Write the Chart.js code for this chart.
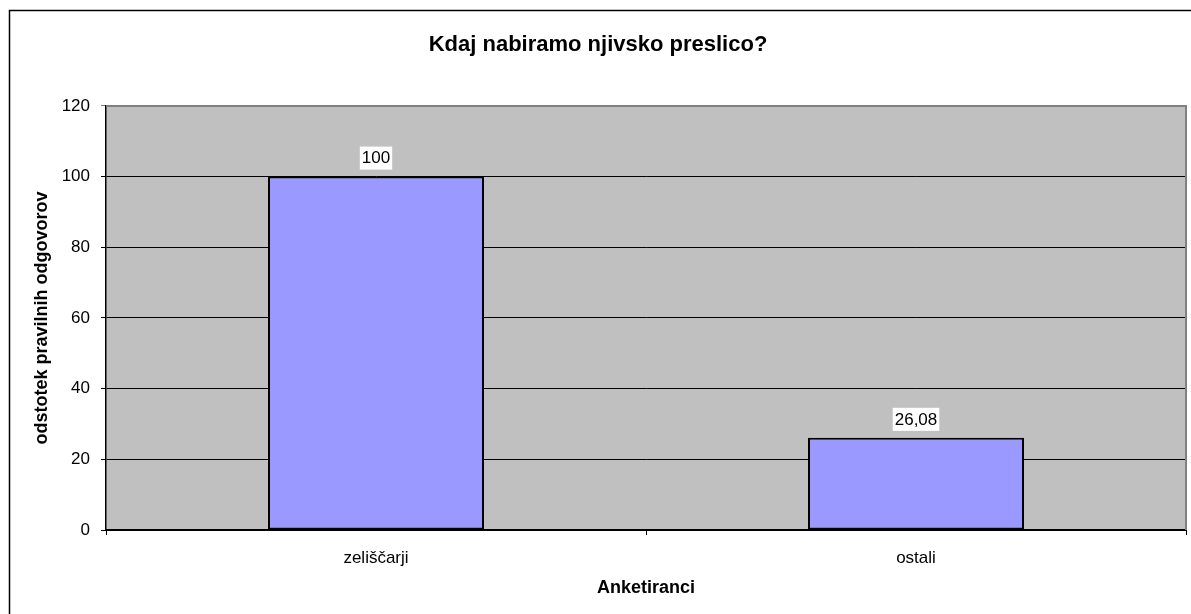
<!DOCTYPE html>
<html>
<head>
<meta charset="utf-8">
<script src="https://cdn.jsdelivr.net/npm/chart.js@4.4.1/dist/chart.umd.min.js"></script>
<style>
  html,body{margin:0;padding:0;background:#fff;overflow:hidden;}
  #wrap{width:1191px;height:614px;}
</style>
</head>
<body>
<div id="wrap"><canvas id="preslicaChart" width="1191" height="614"></canvas></div>
<script>
const categories = ['zeliščarji', 'ostali'];
const percentCorrect = [100, 26.08];
const yMin = 0, yMax = 120, yStep = 20;
const chartTitle = 'Kdaj nabiramo njivsko preslico?';
const xTitle = 'Anketiranci';
const yTitle = 'odstotek pravilnih odgovorov';

const FONT = "'Liberation Sans', Arial, sans-serif";

// background of plot + outer frame
const framePlugin = {
    id: 'frame',
    beforeDraw(chart){
        const ctx = chart.ctx, a = chart.chartArea;
        ctx.save();
        ctx.fillStyle = '#fff';
        ctx.fillRect(0,0,chart.width,chart.height);
        ctx.strokeStyle = '#000';
        ctx.lineWidth = 1.5;
        ctx.strokeRect(9.5, 10.5, chart.width + 20, chart.height + 20);
        ctx.fillStyle = '#c0c0c0';
        ctx.fillRect(a.left, a.top, a.right - a.left, a.bottom - a.top);
        ctx.restore();
    },
    afterDatasetsDraw(chart){
        // plot area border on top/right (gray like excel)
        const ctx = chart.ctx, a = chart.chartArea;
        ctx.save();
        ctx.strokeStyle = '#808080';
        ctx.lineWidth = 2;
        ctx.beginPath();
        ctx.moveTo(a.left, a.top);
        ctx.lineTo(a.right, a.top);
        ctx.lineTo(a.right, a.bottom);
        ctx.stroke();
        ctx.restore();
    }
};

// value labels with white box above bars
const valueLabels = {
    id: 'valueLabels',
    afterDatasetsDraw(chart){
        const ctx = chart.ctx;
        const meta = chart.getDatasetMeta(0);
        ctx.save();
        ctx.font = '17px ' + FONT;
        ctx.textAlign = 'center';
        ctx.textBaseline = 'middle';
        meta.data.forEach((bar, i) => {
            const txt = percentCorrect[i].toLocaleString('sl-SI');
            const w = ctx.measureText(txt).width;
            const cy = bar.y - 19;
            ctx.fillStyle = '#fff';
            ctx.fillRect(bar.x - w/2 - 2, cy - 11, w + 4, 23);
            ctx.fillStyle = '#000';
            ctx.fillText(txt, bar.x, cy + 1);
        });
        ctx.restore();
    }
};

function drawChart(){
    new Chart('preslicaChart', {
        type: 'bar',
        data: {
            labels: categories,
            datasets: [{
                data: percentCorrect,
                backgroundColor: '#9999ff',
                borderColor: '#000',
                borderWidth: 2,
                borderSkipped: false,
                categoryPercentage: 1,
                barPercentage: 0.4
            }]
        },
        options: {
            responsive: false,
            animation: false,
            devicePixelRatio: 1,
            layout: { padding: { left: 10, right: 5, top: 0, bottom: 0 } },
            plugins: {
                legend: { display: false },
                tooltip: { enabled: false },
                title: {
                    display: true,
                    text: chartTitle,
                    color: '#000',
                    font: { family: FONT, size: 22, weight: 'bold' },
                    padding: { top: 31.5, bottom: 48 }
                }
            },
            scales: {
                x: {
                    afterFit: (s) => { s.height = 84; },
                    grid: { offset: true, drawOnChartArea: false, drawTicks: true, tickLength: 5, color: '#000' },
                    border: { color: '#000', width: 2 },
                    ticks: { color: '#000', padding: 13, font: { family: FONT, size: 17 } },
                    title: {
                        display: true, text: xTitle, color: '#000',
                        font: { family: FONT, size: 18, weight: 'bold' },
                        padding: { top: 0, bottom: 15 }
                    }
                },
                y: {
                    min: yMin, max: yMax,
                    afterFit: (s) => { s.width = 96; },
                    grid: {
                        color: (c) => c.tick && c.tick.value === yMax ? '#808080' : '#000',
                        lineWidth: 1, drawTicks: true, tickLength: 5
                    },
                    border: { color: '#000', width: 1.5 },
                    ticks: { stepSize: yStep, color: '#000', padding: 11, font: { family: FONT, size: 17 } },
                    title: {
                        display: true, text: yTitle, color: '#000',
                        font: { family: FONT, size: 18, weight: 'bold' },
                        padding: { top: 21, bottom: 0 }
                    }
                }
            }
        },
        plugins: [framePlugin, valueLabels]
    });
}

document.addEventListener('DOMContentLoaded', () => {
    drawChart();
});
</script>
</body>
</html>
